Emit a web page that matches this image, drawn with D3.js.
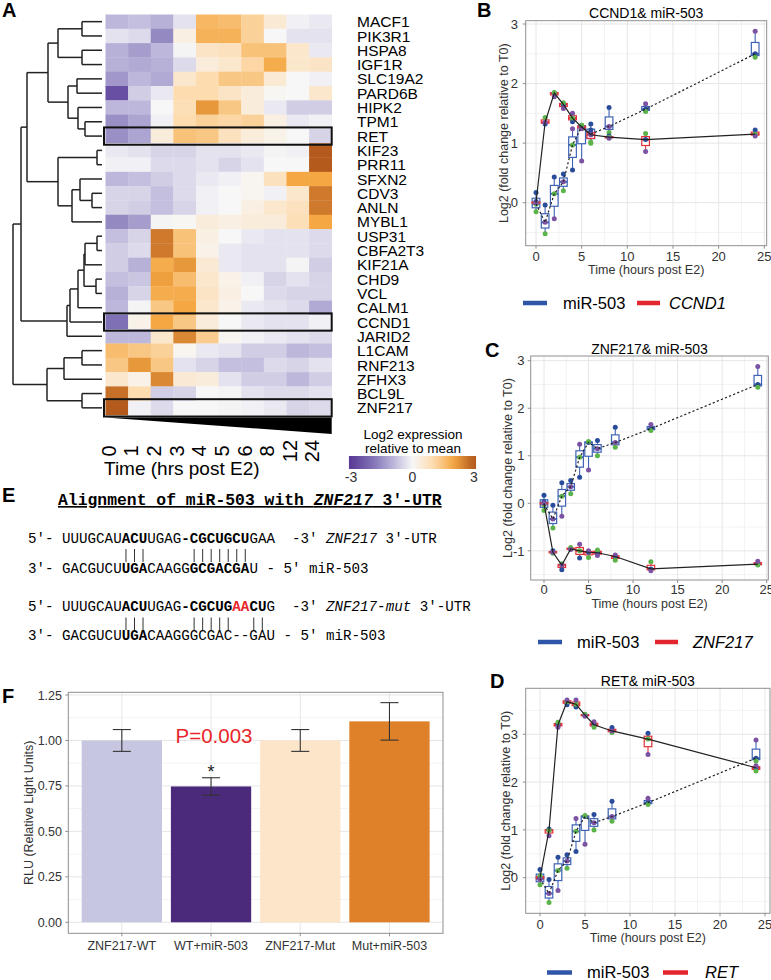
<!DOCTYPE html>
<html><head><meta charset="utf-8">
<script src="https://cdnjs.cloudflare.com/ajax/libs/d3/7.8.5/d3.min.js"></script>
<style>body{margin:0;background:#fff} svg{display:block;font-family:Arial,"Liberation Sans",Helvetica,sans-serif}</style>
</head><body><svg id="fig" width="771" height="980"></svg>
<script>
// ---------------- DATA ----------------
const genes = ["MACF1","PIK3R1","HSPA8","IGF1R","SLC19A2","PARD6B","HIPK2","TPM1","RET","KIF23","PRR11","SFXN2","CDV3","ANLN","MYBL1","USP31","CBFA2T3","KIF21A","CHD9","VCL","CALM1","CCND1","JARID2","L1CAM","RNF213","ZFHX3","BCL9L","ZNF217"];
const heatTimes = ["0","1","2","3","4","5","6","8","12","24"];
const heatValues = [
 [-0.9,-0.8,-1.0,-0.3, 1.7, 1.6, 1.2, 0.5,-0.1,-0.2],
 [-0.3,-0.4,-1.6, 0.3, 1.8, 1.8, 1.2, 0.0,-0.3,-0.3],
 [-1.0,-1.3,-0.9,-0.05,0.7, 0.8, 1.5, 1.5, 0.6,-0.2],
 [-1.0,-1.1,-1.0,-0.4, 0.4, 0.6, 1.1, 1.9, 0.6, 0.7],
 [-1.4,-0.9,-1.1, 0.6, 1.0, 1.4, 1.4, 0.5, 0.0,-0.1],
 [-2.6,-0.6,-0.2, 1.0, 1.0, 0.7, 0.4, 0.05,0.0, 0.6],
 [-0.9,-0.9, 0.0, 0.9, 2.2, 1.4, 0.4,-0.2,-0.6,-0.6],
 [-1.5,-1.2,-0.1, 1.0, 1.2, 1.1, 1.2, 0.3,-0.2,-0.1],
 [-1.5,-1.2, 0.4, 1.5, 1.4, 0.8, 0.4, 0.2, 0.0,-0.5],
 [-0.2,-0.3,-0.5,-0.5,-0.3,-0.3,-0.2,-0.05,-0.1,3.0],
 [-0.1,-0.1,-0.4,-0.4,-0.3,-0.5,-0.3, 0.0, 0.0, 3.0],
 [-0.9,-0.8,-0.6,-0.4,-0.2,-0.1, 0.1, 0.8, 2.0, 2.0],
 [-0.5,-0.5,-0.8,-0.4,-0.1, 0.0, 0.1,-0.1, 0.6, 2.6],
 [-0.5,-0.6,-0.8,-0.5,-0.1, 0.0, 0.3, 0.6, 0.8, 2.6],
 [-1.6,-1.3,-0.05,0.05,0.4, 0.3, 0.4, 0.4, 0.9, 2.0],
 [-0.8,-0.5, 2.6, 1.5, 0.3, 0.0,-0.2,-0.3,-0.3,-0.4],
 [-0.6,-0.4, 2.6, 1.5, 0.2,-0.2,-0.3,-0.3,-0.3,-0.4],
 [-0.6,-1.0, 1.9, 2.2, 0.5,-0.2,-0.3,-0.3,-0.05,-0.6],
 [-0.8,-0.7, 2.1, 1.6, 0.6, 0.2,-0.1,-0.5,-0.3,-0.5],
 [-1.0,-0.5, 1.9, 1.9, 0.7, 0.3, 0.0,-0.4,-0.5,-0.5],
 [-0.9,-0.05,1.4, 2.0, 0.6, 0.2,-0.2,-0.3,-0.4,-1.1],
 [-2.0, 0.2, 2.0, 1.4, 0.4, 0.0,-0.2,-0.3,-0.3,-0.1],
 [-0.9,-0.9, 0.6, 2.4, 1.3, 0.1,-0.1,-0.2,-0.3,-0.4],
 [ 1.6, 1.4, 1.2, 0.1,-0.2,-0.3,-0.6,-0.6,-0.9,-0.8],
 [ 1.4, 2.2, 1.4,-0.3,-0.5,-0.8,-0.8,-0.4,-0.5,-0.3],
 [ 0.6, 0.2, 2.4, 0.5, 0.4,-0.3,-0.6,-0.6,-0.9,-0.6],
 [ 2.7, 1.0,-0.6,-0.5, 0.0,-0.05,-0.3,-0.4,-0.4,-0.3],
 [ 3.0,-0.1,-0.4, 0.0, 0.0,-0.05,-0.1,-0.2,-0.5,-0.4]
];
const highlightedGenes = ["RET","CCND1","ZNF217"];
const legendTicks = [-3, 0, 3];
// hierarchical clustering (merge heights)
const dendrogram = {h:89, c:[
  {h:81, c:[
    {h:75, c:[
      {h:54, c:[
        {h:44, c:[{h:20, c:["MACF1","PIK3R1"]}, {h:20, c:["HSPA8","IGF1R"]}]},
        {h:34, c:[{h:25, c:["SLC19A2","PARD6B"]}, {h:24, c:["HIPK2", {h:17, c:["TPM1","RET"]}]}]}
      ]},
      {h:44, c:[{h:5, c:["KIF23","PRR11"]}, {h:30, c:[{h:22, c:["SFXN2", {h:10, c:["CDV3","ANLN"]}]}, "MYBL1"]}]}
    ]},
    {h:35, c:[{h:32, c:[{h:24, c:[{h:18, c:[{h:17, c:[{h:5, c:["USP31","CBFA2T3"]}, "KIF21A"]}, {h:6, c:["CHD9","VCL"]}]}, "CALM1"]}, "CCND1"]}, "JARID2"]}
  ]},
  {h:55, c:[{h:38, c:[{h:20, c:["L1CAM","RNF213"]}, "ZFHX3"]}, {h:20, c:["BCL9L","ZNF217"]}]}
]};

// time courses: three replicates per time point
const timePoints = [0,1,2,3,4,5,6,8,12,24];
const mir503Rep1 = [ 0.17,-0.04, 0.43, 0.48, 0.55, 1.28, 1.32, 1.60, 1.57, 2.50];
const mir503Rep2 = [-0.15,-0.52, 0.15, 0.20, 0.97, 1.30, 1.00, 1.18, 1.53, 2.44];
const mir503Rep3 = [-0.02,-0.33,-0.27, 0.35, 1.24, 0.70, 1.15, 1.28, 1.66, 2.88];
const ccnd1Rep1 = [ 0.02, 1.32, 1.84, 1.65, 1.36, 1.27, 1.22, 1.12, 1.06, 1.22];
const ccnd1Rep2 = [-0.02, 1.43, 1.85, 1.68, 1.42, 1.30, 1.02, 1.10, 1.16, 1.15];
const ccnd1Rep3 = [ 0.00, 1.35, 1.78, 1.58, 1.50, 1.24, 1.14, 1.08, 0.86, 1.12];
const znf217Rep1 = [ 0.03,-1.00,-1.40,-0.96,-1.15,-1.03,-1.04,-1.12,-1.38,-1.28];
const znf217Rep2 = [-0.03,-1.05,-1.27,-0.93,-1.00,-1.14,-0.98,-1.20,-1.23,-1.30];
const znf217Rep3 = [ 0.00,-1.03,-1.30,-0.97,-0.86,-1.00,-1.10,-1.09,-1.42,-1.22];
const retRep1 = [ 0.00, 1.02, 3.20, 3.62, 3.57, 3.40, 3.20, 3.14, 3.02, 2.30];
const retRep2 = [ 0.04, 0.99, 3.25, 3.68, 3.63, 3.42, 3.15, 3.04, 2.90, 2.23];
const retRep3 = [-0.04, 0.88, 3.15, 3.72, 3.72, 3.38, 3.26, 3.07, 2.58, 2.34];
const timeTicks = [0,5,10,15,20,25];

// sequence alignment (E)
const alignPairs1 = [11,12,13,19,20,21,22,23,24,25];
const alignPairs2 = [11,12,13,19,20,21,22,23,26,27];

// luciferase
const rluCategories = ["ZNF217-WT","WT+miR-503","ZNF217-Mut","Mut+miR-503"];
const rluMeans = [1.00, 0.747, 1.00, 1.105];
const rluErrors = [0.06, 0.048, 0.06, 0.103];
const rluTicks = [0, 0.25, 0.5, 0.75, 1.0, 1.25];

// ---------------- DRAW ----------------
const svg = d3.select("#fig");
const AX = "#333";
const GRID = "#e6e6e6", GRIDMINOR = "#f3f3f3", FRAME = "#8f8f8f";

function letter(t, x, y) {
  svg.append("text").attr("x", x).attr("y", y).attr("font-size", 20).attr("font-weight", "bold").text(t);
}

// ===== Panel A: heatmap =====
letter("A", 2, 17);
const hx = d3.scaleBand().domain(heatTimes).range([105.5, 331.7]);
const hy = d3.scaleBand().domain(genes).range([14.5, 415]);
const heatColor = d3.scaleLinear()
  .domain([-3, -2, -1, 0, 1, 2, 3])
  .range(["#5a3a97", "#7f6fb4", "#b7b1d8", "#f7f7f7", "#fddcb0", "#f4a742", "#b45a1d"])
  .clamp(true);

const cells = [];
genes.forEach((g, i) => heatTimes.forEach((t, j) => cells.push({g, t, v: heatValues[i][j]})));
svg.append("g").selectAll("rect").data(cells).join("rect")
  .attr("x", d => hx(d.t)).attr("y", d => hy(d.g))
  .attr("width", hx.bandwidth() + 0.3).attr("height", hy.bandwidth() + 0.3)
  .attr("fill", d => heatColor(d.v));

svg.append("g").selectAll("text").data(genes).join("text")
  .attr("x", 357).attr("y", d => hy(d) + hy.bandwidth() / 2).attr("dy", "0.36em")
  .attr("font-size", 15.5).text(d => d);

svg.append("g").selectAll("rect").data(highlightedGenes).join("rect")
  .attr("x", hx.range()[0] - 1.5).attr("y", d => hy(d) - 1.5)
  .attr("width", hx.range()[1] - hx.range()[0] + 1.5).attr("height", hy.bandwidth() + 3)
  .attr("fill", "none").attr("stroke", "#111").attr("stroke-width", 2);

const hb = hy.range()[1];
svg.append("path")
  .attr("d", `M${hx.range()[0]},${hb + 2.5}L${hx.range()[1]},${hb + 2.5}L${hx.range()[1]},${hb + 19}Z`)
  .attr("fill", "#000");

svg.append("g").selectAll("text").data(heatTimes).join("text")
  .attr("transform", d => `translate(${hx(d) + hx.bandwidth() / 2 - 1},451) rotate(-90)`)
  .attr("text-anchor", "middle").attr("font-size", 20).text(d => d);
svg.append("text").attr("x", 104).attr("y", 475).attr("font-size", 19).text("Time (hrs post E2)");

// dendrogram
const root = d3.hierarchy(dendrogram, d => (typeof d === "string" ? null : d.c));
const dx = d3.scaleLinear().domain([0, 89]).range([102, 13]);
root.eachAfter(n => {
  if (!n.children) { n.py = hy(n.data) + hy.bandwidth() / 2; n.px = dx(0); }
  else { n.py = d3.mean(n.children, c => c.py); n.px = dx(n.data.h); }
});
const dg = svg.append("g").attr("stroke", "#222").attr("stroke-width", 1.5).attr("fill", "none");
root.each(n => {
  if (!n.children) return;
  const ys = n.children.map(c => c.py);
  dg.append("line").attr("x1", n.px).attr("x2", n.px).attr("y1", d3.min(ys)).attr("y2", d3.max(ys));
  n.children.forEach(c => dg.append("line").attr("x1", n.px).attr("x2", c.px).attr("y1", c.py).attr("y2", c.py));
});

// color legend
const lx = d3.scaleLinear().domain([-3, 3]).range([351, 474]);
const grad = svg.append("defs").append("linearGradient").attr("id", "hg").attr("x1", "0%").attr("x2", "100%");
d3.range(0, 1.0001, 0.05).forEach(t => grad.append("stop").attr("offset", t).attr("stop-color", heatColor(-3.1 + 6.2 * t)));
svg.append("rect").attr("x", lx(-3.1)).attr("y", 456).attr("width", lx(3.1) - lx(-3.1)).attr("height", 13).attr("fill", "url(#hg)");
svg.append("text").attr("x", 413).attr("y", 439).attr("text-anchor", "middle").attr("font-size", 13.5).text("Log2 expression");
svg.append("text").attr("x", 413).attr("y", 453).attr("text-anchor", "middle").attr("font-size", 13.5).text("relative to mean");
svg.append("g").selectAll("text").data(legendTicks).join("text")
  .attr("x", d => lx(d)).attr("y", 482).attr("text-anchor", "middle").attr("font-size", 14).attr("fill", AX).text(d => d);

// ===== Time panels =====
const repColors = ["#2a4d9b", "#5cb349", "#7c52a3"];
const mirColor = "#3e63b4", geneColor = "#e5303a";

function stats(reps) {
  return timePoints.map((t, i) => {
    const v = reps.map(r => r[i]);
    const s = v.slice().sort(d3.ascending);
    return {t, v, min: s[0], max: s[2], q1: d3.quantile(s, 0.25), med: d3.quantile(s, 0.5), q3: d3.quantile(s, 0.75)};
  });
}

function timePanel(c) {
  const g = svg.append("g");
  const x = d3.scaleLinear().domain([0, 25]).range([c.x0, c.x25]);
  const y = d3.scaleLinear().domain([0, 3]).range([c.y0, c.y3]);
  const F = c.frame;
  const yLo = y.invert(F.b), yHi = y.invert(F.t);
  d3.range(2.5, 25, 5).forEach(v => g.append("line").attr("x1", x(v)).attr("x2", x(v)).attr("y1", F.t).attr("y2", F.b).attr("stroke", GRIDMINOR));
  d3.range(Math.ceil(yLo - 0.5) + 0.5, yHi, 1).forEach(v => g.append("line").attr("y1", y(v)).attr("y2", y(v)).attr("x1", F.l).attr("x2", F.r).attr("stroke", GRIDMINOR));
  timeTicks.forEach(v => { if (x(v) < F.r) g.append("line").attr("x1", x(v)).attr("x2", x(v)).attr("y1", F.t).attr("y2", F.b).attr("stroke", GRID); });
  c.yTicks.forEach(v => g.append("line").attr("y1", y(v)).attr("y2", y(v)).attr("x1", F.l).attr("x2", F.r).attr("stroke", GRID));

  const mir = stats([mir503Rep1, mir503Rep2, mir503Rep3]);
  const gene = stats(c.reps);
  const hw = 0.42;
  function boxes(data, col) {
    const bg = g.append("g");
    data.forEach(d => {
      bg.append("line").attr("x1", x(d.t)).attr("x2", x(d.t)).attr("y1", y(d.max)).attr("y2", y(d.min)).attr("stroke", col).attr("stroke-width", 1.1);
      bg.append("rect").attr("x", x(d.t - hw)).attr("width", x(d.t + hw) - x(d.t - hw))
        .attr("y", y(d.q3)).attr("height", Math.max(1, y(d.q1) - y(d.q3)))
        .attr("fill", "#fff").attr("stroke", col).attr("stroke-width", 1.2);
      bg.append("line").attr("x1", x(d.t - hw)).attr("x2", x(d.t + hw)).attr("y1", y(d.med)).attr("y2", y(d.med)).attr("stroke", col).attr("stroke-width", 2);
    });
  }
  boxes(mir, mirColor);
  boxes(gene, geneColor);
  [mir, gene].forEach(data => data.forEach(d => d.v.forEach((v, k) => {
    g.append("circle").attr("cx", x(d.t)).attr("cy", y(v)).attr("r", 2.5).attr("fill", repColors[k]);
  })));
  const line = d3.line().x(d => x(d.t)).y(d => y(d.med));
  g.append("path").attr("d", line(mir)).attr("fill", "none").attr("stroke", "#222").attr("stroke-width", 1.2).attr("stroke-dasharray", "2.2,2.2");
  g.append("path").attr("d", line(gene)).attr("fill", "none").attr("stroke", "#222").attr("stroke-width", 1.2);

  g.append("rect").attr("x", F.l).attr("y", F.t).attr("width", F.r - F.l).attr("height", F.b - F.t).attr("fill", "none").attr("stroke", FRAME);
  timeTicks.forEach(v => {
    g.append("line").attr("x1", x(v)).attr("x2", x(v)).attr("y1", F.b).attr("y2", F.b + 3).attr("stroke", FRAME);
    g.append("text").attr("x", x(v)).attr("y", c.tickY).attr("text-anchor", "middle").attr("font-size", 13).attr("fill", AX).text(v);
  });
  c.yTicks.forEach(v => {
    g.append("line").attr("x1", F.l - 3).attr("x2", F.l).attr("y1", y(v)).attr("y2", y(v)).attr("stroke", FRAME);
    g.append("text").attr("x", c.yTickX).attr("y", y(v)).attr("dy", "0.36em").attr("text-anchor", "end").attr("font-size", 13).attr("fill", AX).text(v);
  });
  g.append("text").attr("x", (F.l + F.r) / 2).attr("y", c.xTitleY).attr("text-anchor", "middle").attr("font-size", 12.5).attr("fill", AX).text("Time (hours post E2)");
  g.append("text").attr("transform", `translate(${c.yTitleX},${(F.t + F.b) / 2}) rotate(-90)`).attr("text-anchor", "middle").attr("font-size", 12.5).attr("fill", AX).text("Log2 (fold change relative to T0)");
  g.append("text").attr("x", (F.l + F.r) / 2).attr("y", c.titleY).attr("text-anchor", "middle").attr("font-size", 14).text(c.title);
  letter(c.letter, c.lx, c.ly);
  const L = c.leg;
  g.append("line").attr("x1", L.b[0]).attr("x2", L.b[1]).attr("y1", c.legY).attr("y2", c.legY).attr("stroke", "#2f55a8").attr("stroke-width", 4.5);
  g.append("text").attr("x", L.bt).attr("y", c.legY).attr("dy", "0.36em").attr("font-size", 16.5).text("miR-503");
  g.append("line").attr("x1", L.r[0]).attr("x2", L.r[1]).attr("y1", c.legY).attr("y2", c.legY).attr("stroke", "#e3262d").attr("stroke-width", 4.5);
  g.append("text").attr("x", L.rt).attr("y", c.legY).attr("dy", "0.36em").attr("font-size", 16.5).attr("font-style", "italic").text(c.gene);
}

timePanel({letter: "B", lx: 477, ly: 17, title: "CCND1& miR-503", titleY: 18, gene: "CCND1",
  reps: [ccnd1Rep1, ccnd1Rep2, ccnd1Rep3],
  frame: {l: 525.7, r: 766.7, t: 20.7, b: 245.7}, x0: 536, x25: 764.3, y0: 202.7, y3: 24,
  yTicks: [0, 1, 2, 3], tickY: 261, xTitleY: 274, yTickX: 518, yTitleX: 507.5,
  legY: 303, leg: {b: [523, 547], bt: 563, r: [637, 660], rt: 669}});
timePanel({letter: "C", lx: 485, ly: 357, title: "ZNF217& miR-503", titleY: 354, gene: "ZNF217",
  reps: [znf217Rep1, znf217Rep2, znf217Rep3],
  frame: {l: 530.7, r: 768.3, t: 356, b: 580}, x0: 544, x25: 766.7, y0: 503.3, y3: 360.7,
  yTicks: [-1, 0, 1, 2, 3], tickY: 594, xTitleY: 607.5, yTickX: 524.5, yTitleX: 511.5,
  legY: 642, leg: {b: [538, 562], bt: 577, r: [655, 678], rt: 693}});
timePanel({letter: "D", lx: 490, ly: 688, title: "RET& miR-503", titleY: 686, gene: "RET",
  reps: [retRep1, retRep2, retRep3],
  frame: {l: 525.7, r: 770, t: 688.3, b: 913.3}, x0: 540, x25: 765, y0: 877.7, y3: 734.3,
  yTicks: [0, 1, 2, 3], tickY: 928.5, xTitleY: 942, yTickX: 518, yTitleX: 509.5,
  legY: 972.5, leg: {b: [547, 572], bt: 587, r: [663, 688], rt: 705}});

// ===== Panel E: alignment =====
letter("E", 2, 502);
const mono = "'Courier New','Liberation Mono',monospace";
const et = svg.append("text").attr("x", 58).attr("y", 505).attr("font-family", mono).attr("font-size", 16.4)
  .attr("font-weight", "bold").attr("text-decoration", "underline");
et.append("tspan").text("Alignment of miR-503 with ");
et.append("tspan").attr("font-style", "italic").text("ZNF217");
et.append("tspan").text(" 3\u2032-UTR");
const monoSize = 14.2, charW = monoSize * 0.6, seqX = 28;
const alignLines = [
  {y: 543, parts: [["5\u2032- UUUGCAU"], ["ACU", "b"], ["UGAG"], ["-CGCUGCU", "b"], ["GAA  -3\u2032 "], ["ZNF217", "i"], [" 3\u2032-UTR"]]},
  {y: 573, parts: [["3\u2032- GACGUCU"], ["UGA", "b"], ["CAAGG"], ["GCGACGA", "b"], ["U - 5\u2032 miR-503"]]},
  {y: 611, parts: [["5\u2032- UUUGCAU"], ["ACU", "b"], ["UGAG"], ["-CGCUG", "b"], ["AA", "br"], ["CU", "b"], ["G  -3\u2032 "], ["ZNF217-mut", "i"], [" 3\u2032-UTR"]]},
  {y: 640, parts: [["3\u2032- GACGUCU"], ["UGA", "b"], ["CAAGGGCGAC--GAU - 5\u2032 miR-503"]]}
];
alignLines.forEach(l => {
  const t = svg.append("text").attr("x", seqX).attr("y", l.y).attr("font-family", mono).attr("font-size", monoSize)
    .attr("xml:space", "preserve").style("white-space", "pre");
  l.parts.forEach(([s, f]) => {
    const sp = t.append("tspan").text(s);
    if (f && f.includes("b")) sp.attr("font-weight", "bold");
    if (f && f.includes("r")) sp.attr("fill", "#e8262c");
    if (f === "i") sp.attr("font-style", "italic");
  });
});
[[alignPairs1, 549, 562], [alignPairs2, 617.5, 630]].forEach(([cols, y1, y2]) => {
  svg.append("g").selectAll("line").data(cols).join("line")
    .attr("x1", c => seqX + (c + 0.5) * charW).attr("x2", c => seqX + (c + 0.5) * charW)
    .attr("y1", y1).attr("y2", y2).attr("stroke", "#333").attr("stroke-width", 1);
});

// ===== Panel F: bar chart =====
letter("F", 2, 703);
const FF = {l: 68.3, r: 443, t: 692.3, b: 933.3};
const bx = d3.scaleBand().domain(rluCategories).range([FF.l, FF.r]).paddingInner(0.1).paddingOuter(0.15);
const by = d3.scaleLinear().domain([0, 1.25]).range([922.3, 695]);
const fg = svg.append("g");
[0.125, 0.375, 0.625, 0.875, 1.125].forEach(v => fg.append("line").attr("x1", FF.l).attr("x2", FF.r).attr("y1", by(v)).attr("y2", by(v)).attr("stroke", GRIDMINOR));
rluTicks.forEach(v => fg.append("line").attr("x1", FF.l).attr("x2", FF.r).attr("y1", by(v)).attr("y2", by(v)).attr("stroke", GRID));
rluCategories.forEach(cat => fg.append("line").attr("x1", bx(cat) + bx.bandwidth() / 2).attr("x2", bx(cat) + bx.bandwidth() / 2).attr("y1", FF.t).attr("y2", FF.b).attr("stroke", GRID));
const barColors = ["#c7c6e1", "#4b2a7c", "#fde5ca", "#de8129"];
fg.selectAll("rect.bar").data(rluCategories).join("rect").attr("class", "bar")
  .attr("x", d => bx(d)).attr("width", bx.bandwidth())
  .attr("y", (d, i) => by(rluMeans[i])).attr("height", (d, i) => by(0) - by(rluMeans[i]))
  .attr("fill", (d, i) => barColors[i]);
rluCategories.forEach((cat, i) => {
  const cx = bx(cat) + bx.bandwidth() / 2, lo = by(rluMeans[i] - rluErrors[i]), hi = by(rluMeans[i] + rluErrors[i]);
  fg.append("line").attr("x1", cx).attr("x2", cx).attr("y1", lo).attr("y2", hi).attr("stroke", "#333").attr("stroke-width", 1.1);
  [lo, hi].forEach(yy => fg.append("line").attr("x1", cx - 9).attr("x2", cx + 9).attr("y1", yy).attr("y2", yy).attr("stroke", "#333").attr("stroke-width", 1.1));
  fg.append("line").attr("x1", cx).attr("x2", cx).attr("y1", FF.b).attr("y2", FF.b + 3).attr("stroke", FRAME);
  fg.append("text").attr("x", cx).attr("y", 950).attr("text-anchor", "middle").attr("font-size", 12.5).attr("fill", AX).text(cat);
});
fg.append("rect").attr("x", FF.l).attr("y", FF.t).attr("width", FF.r - FF.l).attr("height", FF.b - FF.t).attr("fill", "none").attr("stroke", FRAME);
rluTicks.forEach(v => {
  fg.append("line").attr("x1", FF.l - 3).attr("x2", FF.l).attr("y1", by(v)).attr("y2", by(v)).attr("stroke", FRAME);
  fg.append("text").attr("x", 62).attr("y", by(v)).attr("dy", "0.36em").attr("text-anchor", "end").attr("font-size", 12.5).attr("fill", AX).text(d3.format(".2f")(v));
});
fg.append("text").attr("transform", `translate(33,${(FF.t + FF.b) / 2}) rotate(-90)`).attr("text-anchor", "middle").attr("font-size", 12.5).attr("fill", AX).text("RLU (Relative Light Units)");
fg.append("text").attr("x", 214).attr("y", 743).attr("text-anchor", "middle").attr("font-size", 20.5).attr("fill", "#e8262c").text("P=0.003");
fg.append("text").attr("x", bx(rluCategories[1]) + bx.bandwidth() / 2).attr("y", 778).attr("text-anchor", "middle").attr("font-size", 18).attr("fill", "#222").text("*");
</script></body></html>
